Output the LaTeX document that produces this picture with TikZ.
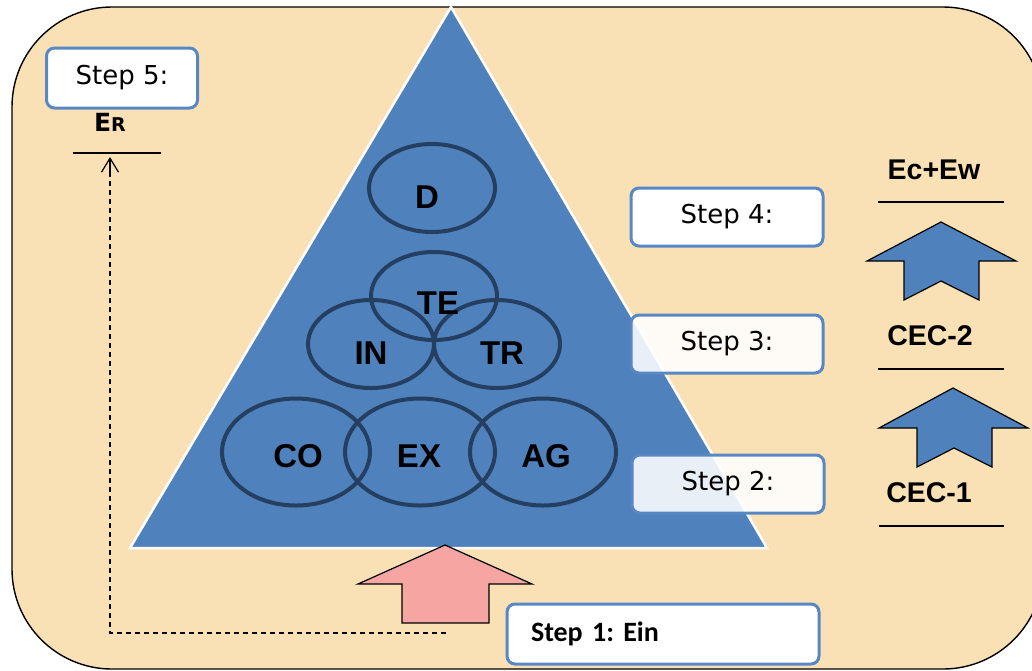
\documentclass[tikz,border=0pt]{standalone}
\usepackage{fontspec}
\newfontfamily\stepfont{DejaVu Sans}
\newfontfamily\headfont{Liberation Sans}
\newfontfamily\boxfont{Carlito}
\usetikzlibrary{shapes.geometric,arrows.meta}
\definecolor{paper}{RGB}{250,225,181}
\definecolor{triblue}{RGB}{79,129,189}
\definecolor{ringnavy}{RGB}{36,63,96}
\definecolor{boxblue}{RGB}{88,135,197}
\definecolor{inpink}{RGB}{245,166,162}
\tikzset{
    stepbox/.style = {
        draw=boxblue, fill=white, rectangle, align=center,
        rounded corners=8pt,
        line width=3pt,
        outer sep=0,
        inner sep=0,
        minimum width=192pt,
        minimum height=58pt,
        font=\stepfont\fontsize{26}{30}\selectfont
    },
    trait/.style = {
        draw=ringnavy, ellipse,
        line width=4pt,
        outer sep=0,
        inner sep=0,
        minimum width=126pt,
        minimum height=88pt
    },
    trlabel/.style = {
        inner sep=0,
        font=\headfont\bfseries\fontsize{33}{38}\selectfont
    },
    level/.style = {
        inner sep=0,
        font=\headfont\bfseries\fontsize{28.5}{34}\selectfont
    },
    block/.style = {
        draw=black, line width=1.2pt, line join=miter
    },
    rule/.style = {
        draw=black, line width=1.2pt
    }
}

\begin{document}
\frenchspacing
\begin{tikzpicture}[x=1pt,y=-1pt]

% 0. canvas
\useasboundingbox (0,0) rectangle (1032,670);
\clip (0,0) rectangle (1032,670);
\draw[fill=paper,line width=1.4pt,rounded corners=100pt] (12,7) rectangle (1043,669);

% 1. pyramid
\draw[fill=triblue,draw=white,line width=2.5pt,line join=miter] (451,7) -- (767,548) -- (130,548) -- cycle;

% 2. trait rings
\node[trait] (D)  at (432,188) {};
\node[trait] (TE) at (434,296) {};
\node[trait] (IN) at (371,344) {};
\node[trait] (TR) at (497,344) {};
\node[trait,minimum width=148pt,minimum height=107pt] (CO) at (296,452) {};
\node[trait,minimum width=150pt,minimum height=107pt] (EX) at (420,452) {};
\node[trait,minimum width=146pt,minimum height=107pt] (AG) at (543,452) {};

\node[trlabel] (tD)  at (427,197) {D};
\node[trlabel] (tTE) at (438,303) {TE};
\node[trlabel] (tIN) at (371,353) {IN};
\node[trlabel] (tTR) at (502,353) {TR};
\node[trlabel] (tCO) at (298,456) {CO};
\node[trlabel] (tEX) at (419,456) {EX};
\node[trlabel] (tAG) at (546,456) {AG};

% 3. step boxes
\node[stepbox,minimum width=151pt,minimum height=60pt] (s5) at (122,78) {Step 5:};
\node[stepbox] (s4) at (727,217) {Step 4:};
\node[stepbox,fill opacity=.88,text opacity=1] (s3) at (727,344) {Step 3:};
\node[stepbox,fill opacity=.88,text opacity=1] (s2) at (728,484) {Step 2:};
\node[stepbox,minimum width=312pt,minimum height=60pt,text width=264pt,align=left,
      font=\boxfont\bfseries\fontsize{28}{32}\selectfont] (s1) at (663,634) {Step 1: Ein};

% 4. levels on the right
\node[level] (ecew) at (934,170) {Ec+Ew};
\node[level] (cec2) at (930,336) {CEC-2};
\node[level] (cec1) at (929,493) {CEC-1};
\draw[rule] (878,202) -- (1004,202);
\draw[rule] (878,369) -- (1004,369);
\draw[rule] (879,526) -- (1004,526);

\draw[block,fill=triblue] (941,222) -- (1016,261) -- (979,261) -- (979,300) -- (941,281)
  -- (904,300) -- (904,261) -- (867,261) -- cycle;
\draw[block,fill=triblue] (953,388) -- (1028,428) -- (992,428) -- (992,467) -- (954,448)
  -- (917,467) -- (917,428) -- (879,428) -- cycle;

% 5. input arrow
\draw[block,fill=inpink] (445,545) -- (532,584) -- (489,584) -- (489,623) -- (402,623)
  -- (402,584) -- (358,584) -- cycle;

% 6. E_R and feedback
\node[inner sep=0,font=\stepfont\bfseries] (er) at (110,122)
  {{\fontsize{25}{30}\selectfont E}{\fontsize{19}{24}\selectfont R}};
\draw[rule] (73,153) -- (161,153);
\coordinate (einfoot) at (446,633);
\coordinate (erfoot) at (110,157);
\coordinate (erneck) at (110,172);
\draw[line width=1.2pt,dash pattern=on 5pt off 4pt] (einfoot) -| (erneck);
\draw[line width=1.2pt,-{Straight Barb[length=14pt,width=17pt]}] (erneck) -- (erfoot);

\end{tikzpicture}
\end{document}
